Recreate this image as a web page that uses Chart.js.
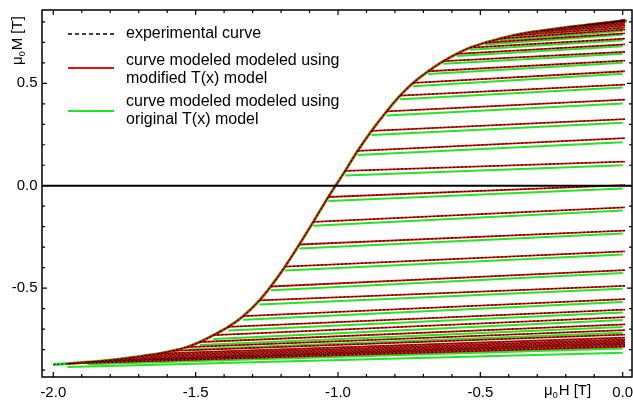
<!DOCTYPE html>
<html>
<head>
<meta charset="utf-8">
<script src="https://cdn.jsdelivr.net/npm/chart.js@4"></script>
<style>
  html, body { margin: 0; padding: 0; background: #fff; }
</style>
</head>
<body>
<canvas id="forcChart" width="633" height="403"></canvas>
<script>
// major (ascending) branch, mu0H [T] vs mu0M [T]
const branchH = [-2.000, -1.950, -1.880, -1.830, -1.780, -1.730, -1.680, -1.630, -1.580, -1.531,
                 -1.485, -1.438, -1.385, -1.333, -1.276, -1.236, -1.186, -1.136, -1.087, -1.034,
                 -0.975, -0.931, -0.882, -0.829, -0.782, -0.736, -0.683, -0.630, -0.583, -0.536,
                 -0.484, -0.431, -0.384, -0.334, -0.284, -0.234, -0.184, -0.134, -0.084, -0.034,
                  0.000, 0.014];
const branchM = [-0.873, -0.869, -0.861, -0.856, -0.849, -0.840, -0.830, -0.820, -0.806, -0.788,
                 -0.763, -0.730, -0.689, -0.637, -0.560, -0.492, -0.395, -0.287, -0.177, -0.055,
                  0.072, 0.170, 0.268, 0.363, 0.440, 0.502, 0.559, 0.608, 0.644, 0.674,
                  0.698, 0.718, 0.734, 0.747, 0.757, 0.767, 0.776, 0.784, 0.792, 0.799,
                  0.803, 0.805];

// first order reversal curves: reversal points are branch points 1..39
const forcEndH = 0.008;
const forcEndM = [-0.785, -0.777, -0.771, -0.765, -0.758, -0.751, -0.742, -0.727, -0.705, -0.677,
                  -0.642, -0.605, -0.554, -0.489, -0.412, -0.321, -0.219, -0.106, 0.003, 0.118,
                   0.232, 0.325, 0.420, 0.494, 0.559, 0.611, 0.654, 0.690, 0.718, 0.744,
                   0.762, 0.772, 0.782, 0.790, 0.797, 0.802, 0.806, 0.809, 0.811];

// original T(x) model (green)
const origEndH = 0.0;
const origStartM = [-0.885, -0.872, -0.867, -0.860, -0.851, -0.841, -0.831, -0.818, -0.800, -0.778,
                    -0.748, -0.707, -0.655, -0.580, -0.510, -0.414, -0.306, -0.196, -0.075, 0.050,
                     0.150, 0.248, 0.343, 0.422, 0.486, 0.545, 0.596, 0.633, 0.664, 0.689,
                     0.710, 0.727, 0.740, 0.750, 0.760, 0.769, 0.777, 0.785, 0.792];
const origEndM = [-0.815, -0.795, -0.788, -0.781, -0.774, -0.766, -0.757, -0.742, -0.718, -0.690,
                  -0.656, -0.619, -0.568, -0.503, -0.426, -0.336, -0.233, -0.121, -0.013, 0.100,
                   0.212, 0.308, 0.401, 0.480, 0.547, 0.600, 0.644, 0.681, 0.710, 0.737,
                   0.755, 0.766, 0.776, 0.785, 0.792, 0.798, 0.802, 0.805, 0.808];

const xTickValues = [-2.0, -1.5, -1.0, -0.5, 0.0];
const xTickLabels = ['-2.0', '-1.5', '-1.0', '-0.5', '0.0'];
const yTickValues = [-0.5, 0.0, 0.5];
const yTickLabels = ['-0.5', '0.0', '0.5'];

const RED = '#f20d0d';
const GREEN = '#22e622';
const FONT = '"Liberation Sans", Arial, sans-serif';

const branchPts = branchH.map((h, i) => ({ x: h, y: branchM[i] }));

const expSets = [], modSets = [], origSets = [];
const expBase = { borderColor: '#000', borderWidth: 1.0, borderDash: [2, 2], pointRadius: 0, showLine: true, fill: false, order: 0 };
const modBase = { borderColor: RED, borderWidth: 1.8, pointRadius: 0, showLine: true, fill: false, order: 1 };
const origBase = { borderColor: GREEN, borderWidth: 2, pointRadius: 0, showLine: true, fill: false, order: 2 };

expSets.push(Object.assign({ data: branchPts, cubicInterpolationMode: 'monotone' }, expBase));
modSets.push(Object.assign({ data: branchPts.slice(1), cubicInterpolationMode: 'monotone' }, modBase, { borderWidth: 2 }));
origSets.push(Object.assign({ data: branchPts, cubicInterpolationMode: 'monotone' }, origBase, { borderWidth: 3 }));

forcEndM.forEach((mEnd, k) => {
    const h0 = branchH[k + 1], m0 = branchM[k + 1];
    expSets.push(Object.assign({ data: [{ x: h0, y: m0 }, { x: forcEndH, y: mEnd }] }, expBase));
    modSets.push(Object.assign({ data: [{ x: h0, y: m0 }, { x: forcEndH, y: mEnd }] }, modBase));
    origSets.push(Object.assign({ data: [{ x: h0, y: origStartM[k] }, { x: origEndH, y: origEndM[k] }] }, origBase));
});

// axes frame, inward ticks, labels, titles and legend
function muText(ctx, letter, x, y, size) {
    ctx.font = size + 'px ' + FONT;
    ctx.fillText('\u03bc', x, y);
    x += ctx.measureText('\u03bc').width;
    ctx.font = Math.round(size * 0.6) + 'px ' + FONT;
    ctx.fillText('0', x, y + 3);
    x += ctx.measureText('0').width + 1;
    ctx.font = size + 'px ' + FONT;
    ctx.fillText(letter + ' [T]', x, y);
}

const framePlugin = {
    id: 'framePlugin',
    afterDatasetsDraw(chart) {
        const { ctx, chartArea: a, scales: { x, y } } = chart;
        ctx.save();
        ctx.strokeStyle = '#000';
        ctx.fillStyle = '#000';

        const y0 = y.getPixelForValue(0);
        ctx.lineWidth = 2;
        ctx.beginPath(); ctx.moveTo(a.left, y0); ctx.lineTo(a.right, y0); ctx.stroke();

        ctx.lineWidth = 1.5;
        ctx.strokeRect(a.left, a.top, a.right - a.left, a.bottom - a.top);

        ctx.lineWidth = 1.2;
        ctx.beginPath();
        for (let i = -20; i <= 0; i++) {
            const px = x.getPixelForValue(i / 10);
            const len = i % 5 === 0 ? 5 : 3;
            ctx.moveTo(px, a.bottom); ctx.lineTo(px, a.bottom - len);
            ctx.moveTo(px, a.top); ctx.lineTo(px, a.top + len);
        }
        for (let i = -9; i <= 8; i++) {
            const py = y.getPixelForValue(i / 10);
            const len = i % 5 === 0 ? 5 : 3;
            ctx.moveTo(a.left, py); ctx.lineTo(a.left + len, py);
            ctx.moveTo(a.right, py); ctx.lineTo(a.right - len, py);
        }
        ctx.stroke();

        ctx.font = '15px ' + FONT;
        ctx.textAlign = 'center';
        ctx.textBaseline = 'alphabetic';
        xTickValues.forEach((v, i) => ctx.fillText(xTickLabels[i], x.getPixelForValue(v), 397));
        ctx.textAlign = 'right';
        ctx.textBaseline = 'middle';
        yTickValues.forEach((v, i) => ctx.fillText(yTickLabels[i], 37.5, y.getPixelForValue(v)));

        // axis titles
        ctx.textAlign = 'left';
        ctx.textBaseline = 'alphabetic';
        muText(ctx, 'H', 544, 395, 15);
        ctx.save();
        ctx.translate(22, 65);
        ctx.rotate(-Math.PI / 2);
        muText(ctx, 'M', 0, 0, 15);
        ctx.restore();

        // legend
        ctx.lineWidth = 1.5;
        ctx.setLineDash([4, 3]);
        ctx.beginPath(); ctx.moveTo(68, 34); ctx.lineTo(114, 34); ctx.stroke();
        ctx.setLineDash([]);
        ctx.lineWidth = 2;
        ctx.strokeStyle = RED;
        ctx.beginPath(); ctx.moveTo(68, 68); ctx.lineTo(114, 68); ctx.stroke();
        ctx.strokeStyle = GREEN;
        ctx.beginPath(); ctx.moveTo(68, 111); ctx.lineTo(114, 111); ctx.stroke();

        ctx.font = '16px ' + FONT;
        ctx.textBaseline = 'middle';
        ctx.fillText('experimental curve', 126, 34);
        ctx.fillText('curve modeled modeled using', 126, 61);
        ctx.fillText('modified T(x) model', 126, 79);
        ctx.fillText('curve modeled modeled using', 126, 102);
        ctx.fillText('original T(x) model', 126, 120);
        ctx.restore();
    }
};

new Chart(document.getElementById('forcChart').getContext('2d'), {
    type: 'scatter',
    data: { datasets: expSets.concat(modSets, origSets) },
    options: {
        responsive: false,
        animation: false,
        layout: { padding: { left: 42, right: 1, top: 10, bottom: 26 } },
        plugins: { legend: { display: false }, tooltip: { enabled: false } },
        scales: {
            x: { type: 'linear', min: -2.0397, max: 0.0327, display: false },
            y: { type: 'linear', min: -0.934, max: 0.858, display: false }
        }
    },
    plugins: [framePlugin]
});
</script>
</body>
</html>
